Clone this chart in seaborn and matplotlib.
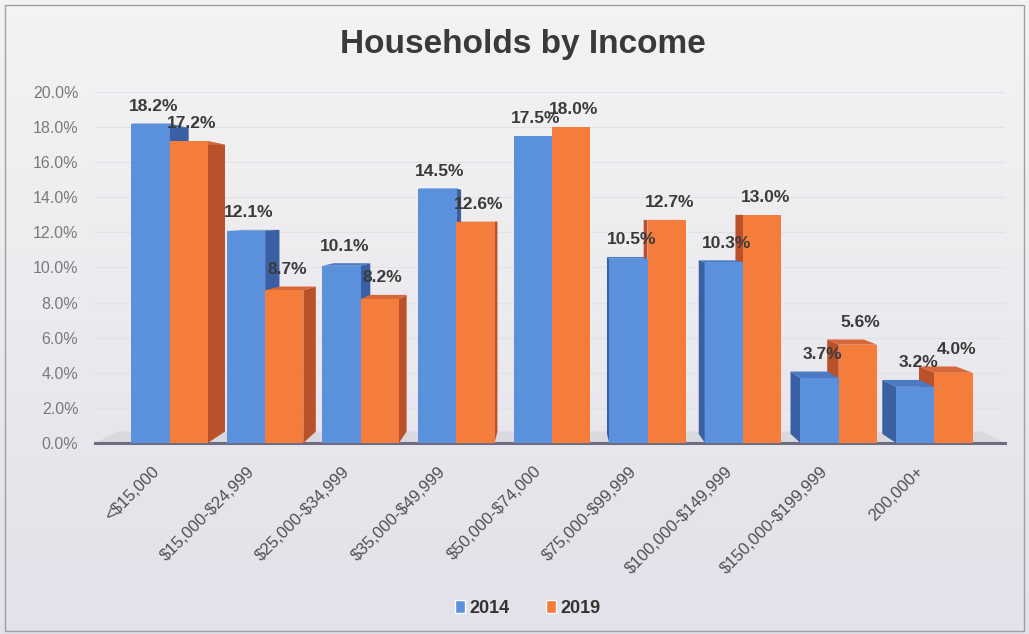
import matplotlib
matplotlib.use("Agg")
import matplotlib.pyplot as plt
import matplotlib.patches as mpatches
import matplotlib.transforms as mtransforms
import numpy as np
import pandas as pd
import seaborn as sns

# Household income distribution, share of households per bracket
brackets = ["<$15,000", "$15,000-$24,999", "$25,000-$34,999", "$35,000-$49,999",
            "$50,000-$74,000", "$75,000-$99,999", "$100,000-$149,999",
            "$150,000-$199,999", "200,000+"]
share_2014 = [18.2, 12.1, 10.1, 14.5, 17.5, 10.5, 10.3, 3.7, 3.2]
share_2019 = [17.2, 8.7, 8.2, 12.6, 18.0, 12.7, 13.0, 5.6, 4.0]
years = ["2014", "2019"]

df = pd.DataFrame({
    "bracket": brackets * 2,
    "year": [years[0]] * len(brackets) + [years[1]] * len(brackets),
    "share": share_2014 + share_2019,
})

front = {"2014": "#5b91dc", "2019": "#f47d3b"}
side = {"2014": "#3b5fa3", "2019": "#b9512b"}
top = {"2014": "#4b79c2", "2019": "#d8683a"}

sns.set_theme(style="white")
plt.rcParams["font.family"] = ["Liberation Sans", "DejaVu Sans"]
plt.rcParams["text.parse_math"] = False

fig = plt.figure(figsize=(10.29, 6.34), dpi=100)

# soft vertical gradient behind the whole chart
bg = fig.add_axes([0, 0, 1, 1], zorder=-10)
grad = np.linspace(0, 1, 256)[:, None]
top_c = np.array([0.955, 0.955, 0.955])
bot_c = np.array([0.890, 0.882, 0.915])
img = top_c[None, None, :] * (1 - grad[..., None]) + bot_c[None, None, :] * grad[..., None]
bg.imshow(img, aspect="auto", extent=[0, 1, 0, 1])
bg.set_axis_off()

ax = fig.add_axes([0.0923, 0.3013, 0.8844, 0.5536])
ax.set_facecolor("none")

sns.barplot(data=df, x="bracket", y="share", hue="year", palette=front,
            width=0.8, ax=ax, saturation=1, legend=False)

ax.set_xlim(-0.78, 8.74)
ax.set_ylim(0, 20)
ax.yaxis.grid(True, color="#e2e2e6", linewidth=0.8)
ax.set_axisbelow(True)

# perspective depth: back faces shrink toward a vanishing point
vx, vy, k = 4.0, 13.0, 0.05


def back(x, y, kk=k):
    return vx + (x - vx) * (1 - kk), vy + (y - vy) * (1 - kk)


lo, hi = ax.get_xlim()
floor = mpatches.Polygon([(lo, 0), (hi, 0), back(hi, 0), back(lo, 0)], closed=True,
                         facecolor="#d9d8de", edgecolor="none", zorder=0.5)
ax.add_patch(floor)

for container, yr in zip(ax.containers, years):
    for bar in container:
        x0, w, h = bar.get_x(), bar.get_width(), bar.get_height()
        x1 = x0 + w
        z = 10 - abs(x0 + w / 2 - vx)
        # slightly shallower depth on the right half
        kk = k if x1 <= vx else k * 0.8
        bar.set_edgecolor("none")
        bar.set_zorder(z)
        ex = x1 if x1 <= vx else x0
        bx0, by0 = back(ex, 0, kk)
        bxh, byh = back(ex, h, kk)
        ax.add_patch(mpatches.Polygon([(ex, 0), (bx0, by0), (bxh, byh), (ex, h)],
                                      closed=True, facecolor=side[yr],
                                      edgecolor="none", zorder=z - 0.01))
        tl, tr = back(x0, h, kk), back(x1, h, kk)
        ax.add_patch(mpatches.Polygon([(x0, h), (x1, h), tr, tl], closed=True,
                                      facecolor=top[yr], edgecolor="none",
                                      zorder=z - 0.005))
        ax.text(x0 + w / 2 + 0.03, max(h, byh) + 0.55, f"{h:.1f}%", ha="center",
                va="bottom", fontsize=12.5, fontweight="bold", color="#3a3a3a",
                zorder=20)

ax.set_yticks(range(0, 21, 2))
ax.set_yticklabels([f"{v:.1f}%" for v in range(0, 21, 2)], color="#7a7a7a", fontsize=11.5)
ax.set_xticks(range(len(brackets)))
ax.set_xticklabels(brackets, rotation=45, ha="right", va="center",
                   rotation_mode="anchor", color="#505050", fontsize=12)
ax.tick_params(axis="x", pad=0, length=0)
ax.tick_params(axis="y", pad=12, length=0)
shift = mtransforms.ScaledTranslation(-0.13, -0.26, fig.dpi_scale_trans)
for lab in ax.get_xticklabels():
    lab.set_transform(lab.get_transform() + shift)
ax.set_xlabel("")
ax.set_ylabel("")

for s in ["left", "right", "top"]:
    ax.spines[s].set_visible(False)
ax.spines["bottom"].set_color("#6f6b80")
ax.spines["bottom"].set_linewidth(2.2)
ax.spines["bottom"].set_zorder(1)

fig.text(0.508, 0.93, "Households by Income", ha="center", va="center", fontsize=24,
         fontweight="bold", color="#3a3a3a")

handles = [mpatches.Patch(facecolor=front[y], label=y) for y in years]
leg = fig.legend(handles=handles, loc="center", bbox_to_anchor=(0.513, 0.041), ncol=2,
                 frameon=False, fontsize=13, handlelength=0.55, handleheight=0.75,
                 handletextpad=0.25, columnspacing=2.0)
for t in leg.get_texts():
    t.set_color("#333333")
    t.set_fontweight("bold")

fig.add_artist(mpatches.Rectangle((0.005, 0.005), 0.990, 0.987, transform=fig.transFigure,
                                  fill=False, edgecolor="#a0a0a0", linewidth=1))

fig.savefig("out.png", dpi=100)
